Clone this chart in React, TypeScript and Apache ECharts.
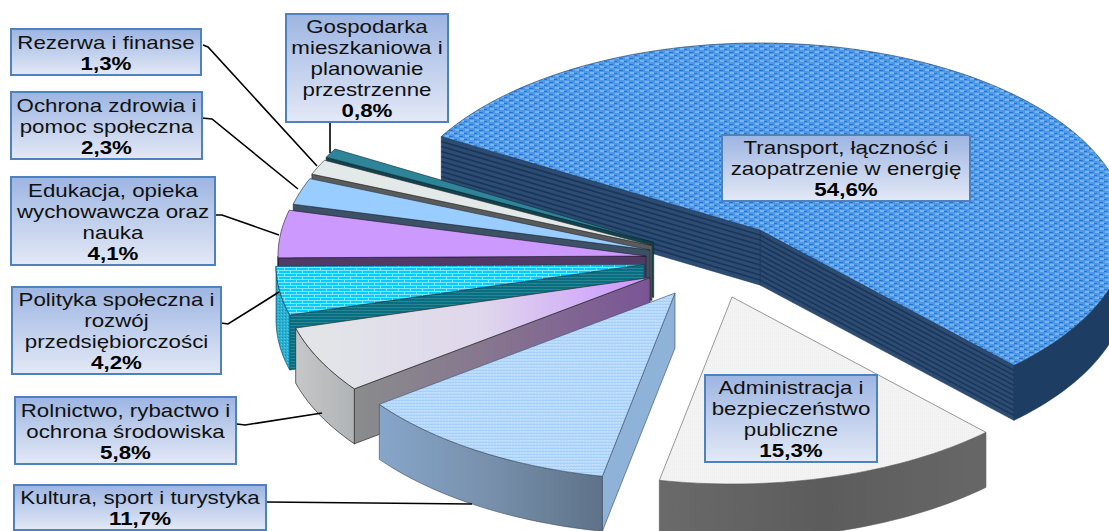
import React, { useEffect, useRef } from "react";
import * as echarts from "echarts";

const sliceNames = [
  "Transport, łączność i\nzaopatrzenie w energię",
  "Administracja i\nbezpieczeństwo\npubliczne",
  "Kultura, sport i turystyka",
  "Rolnictwo, rybactwo i\nochrona środowiska",
  "Polityka społeczna i\nrozwój\nprzedsiębiorczości",
  "Edukacja, opieka\nwychowawcza oraz\nnauka",
  "Ochrona zdrowia i\npomoc społeczna",
  "Rezerwa i finanse",
  "Gospodarka\nmieszkaniowa i\nplanowanie\nprzestrzenne",
];
const sliceValues = [54.6, 15.3, 11.7, 5.8, 4.2, 4.1, 2.3, 1.3, 0.8];

// Layout of the exploded pie
const START_DEG = -150;
const RX = 368;
const RY = 187;
const DEPTH = 55;
const sliceApex = [
  [760, 230], [732, 297], [675, 293], [650, 277.5], [644, 264.5],
  [646, 256], [650, 250], [652, 245.5], [653.7, 242.5],
];
// painter's order: back to front
const drawOrder = [0, 8, 7, 6, 5, 4, 3, 2, 1];

// label boxes: x, y, w, h
const labelBoxes = [
  [722, 135, 248, 66], [705, 375, 172, 87], [14, 485, 252, 45], [15, 397, 221, 67],
  [12, 287, 209, 87], [11, 177, 204, 88], [11, 92, 191, 67], [11, 29, 190, 46], [286, 14, 162, 108],
];
const leaderLines = [
  null, null,
  [[267, 502], [472, 504]],
  [[237, 424], [245, 425], [322, 413]],
  [[221, 323], [228, 324], [279, 292]],
  [[216, 215], [222, 215], [279, 235]],
  [[202, 118], [212, 119], [298, 189]],
  [[203, 45], [208, 47], [317, 166]],
  [[330, 123], [330, 153]],
];

function tile(w: number, h: number, base: string, marks: [string, number, number, number, number][]) {
  const c = document.createElement("canvas");
  c.width = w;
  c.height = h;
  const g = c.getContext("2d")!;
  g.fillStyle = base;
  g.fillRect(0, 0, w, h);
  for (const [col, x, y, mw, mh] of marks) {
    g.fillStyle = col;
    g.fillRect(x, y, mw, mh);
  }
  return { image: c, repeat: "repeat", imageWidth: w, imageHeight: h };
}

function hgrad(x1: number, x2: number, stops: string[]) {
  return {
    type: "linear", global: true, x: x1, y: 0, x2, y2: 0,
    colorStops: stops.map((color, i) => ({ offset: i / (stops.length - 1), color })),
  };
}

function buildStyles() {
  const L = "#78B4F2", D = "#2274D2";
  const weave = tile(10, 6, "#4E98E8", [
    [L, 0, 0, 4, 2], [D, 4, 1, 3, 1], [L, 5, 3, 4, 2], [D, 0, 4, 3, 1], [D, 9, 4, 1, 1],
  ]);
  const dots = tile(2, 2, "#F3F3F3", [["#EEEEEE", 0, 0, 1, 1]]);
  const kTop = tile(3, 3, "#B7DAFD", [["#A8CFF8", 0, 1, 3, 1], ["#CAE4FE", 1, 2, 1, 1]]);
  const brick = tile(12, 6, "#05CBFF", [
    ["#7FE6FF", 0, 0, 12, 1], ["#7FE6FF", 2, 0, 1, 3], ["#7FE6FF", 0, 3, 12, 1], ["#7FE6FF", 8, 3, 1, 3],
  ]);
  const tealSide = tile(3, 3, "#086F82", [["#2C8493", 0, 1, 3, 1]]);
  const tealArc = tile(3, 3, "#28B0D2", [["#1592B4", 0, 1, 1, 1], ["#58C8E2", 2, 2, 1, 1]]);
  return [
    { top: weave, start: "#2C4C74", end: "#2C4C74", arc: "#1E3D62", stripe: "#1B3556", stroke: "#1B3556", lw: 0.6 },
    { top: dots, start: "#666", end: "#666", arc: hgrad(660, 985, ["#6A6A6A", "#5C5C5C", "#676767"]), stroke: "#555", lw: 0.6 },
    {
      top: kTop, start: "#8FB2D8", end: "#8FB2D8",
      arc: hgrad(377, 601, ["#86A6CA", "#7890AC", "#5E7389"]), stroke: "#3A4A5C", lw: 0.6,
    },
    {
      top: hgrad(330, 640, ["#E2E4E8", "#DFD6EC", "#CC99FF"]),
      start: hgrad(356, 650, ["#8A8C8D", "#86738F", "#7A5596"]),
      end: "#8A8C8D", arc: hgrad(297, 356, ["#C4C6C8", "#B0B3B5"]), stroke: "#2A2A2A", lw: 0.7,
    },
    { top: brick, start: tealSide, end: tealSide, arc: tealArc, stroke: "#0B3E4A", lw: 0.6 },
    { top: "#CC99FF", start: "#523A66", end: "#523A66", arc: "#523A66", stroke: "#1E1528", lw: 0.6 },
    { top: "#99CCFF", start: "#3D5166", end: "#3D5166", arc: "#3D5166", stroke: "#1E2A36", lw: 0.6 },
    { top: "#E3E8E8", start: "#5A5C5C", end: "#5A5C5C", arc: "#5A5C5C", stroke: "#2A2C2C", lw: 0.6 },
    { top: "#2E8599", start: "#12424D", end: "#12424D", arc: "#12424D", stroke: "#0A2A30", lw: 0.6 },
  ];
}

const rad = (d: number) => (d * Math.PI) / 180;

function sliceAngles(i: number) {
  const total = sliceValues.reduce((a, b) => a + b, 0);
  let acc = 0;
  for (let k = 0; k < i; k++) acc += sliceValues[k];
  const a0 = START_DEG + (acc / total) * 360;
  return [a0, a0 + (sliceValues[i] / total) * 360];
}

function rimPoint(i: number, deg: number, dy = 0) {
  const [ax, ay] = sliceApex[i];
  return [ax + RX * Math.cos(rad(deg)), ay + RY * Math.sin(rad(deg)) + dy];
}

function arcPoints(i: number, from: number, to: number, dy = 0) {
  const pts: number[][] = [];
  const n = Math.max(2, Math.ceil((to - from) / 1.5));
  for (let k = 0; k <= n; k++) pts.push(rimPoint(i, from + ((to - from) * k) / n, dy));
  return pts;
}

function renderSlice(styles: any[]) {
  return (params: any) => {
    const i = drawOrder[params.dataIndex];
    const st = styles[i];
    const [a0, a1] = sliceAngles(i);
    const [ax, ay] = sliceApex[i];
    const children: any[] = [];
    const face = (points: number[][], fill: any) =>
      children.push({ type: "polygon", shape: { points }, style: { fill, stroke: st.stroke, lineWidth: st.lw } });
    const stripes = (pts: (dy: number) => number[][]) => {
      if (!st.stripe) return;
      for (let d = 5; d < DEPTH; d += 5) {
        children.push({ type: "polyline", shape: { points: pts(d) }, style: { fill: "none", stroke: st.stripe, lineWidth: 1.6 } });
      }
    };
    // radial wall on the closing edge
    if (Math.sin(rad(a1 + 90)) > 0) {
      face([[ax, ay], rimPoint(i, a1), rimPoint(i, a1, DEPTH), [ax, ay + DEPTH]], st.end);
      stripes((d) => [[ax, ay + d], rimPoint(i, a1, d)]);
    }
    // radial wall on the opening edge
    if (Math.sin(rad(a0 - 90)) > 0) {
      face([[ax, ay], rimPoint(i, a0), rimPoint(i, a0, DEPTH), [ax, ay + DEPTH]], st.start);
      stripes((d) => [[ax, ay + d], rimPoint(i, a0, d)]);
    }
    // outer wall, only the part that faces the viewer
    const from = Math.max(a0, 0);
    const to = Math.min(a1, 180);
    if (to > from) {
      face([...arcPoints(i, from, to), ...arcPoints(i, from, to, DEPTH).reverse()], st.arc);
    }
    // top face
    face([[ax, ay], ...arcPoints(i, a0, a1)], st.top);
    return { type: "group", children };
  };
}

function renderLabel(params: any) {
  const i = params.dataIndex;
  const [x, y, w, h] = labelBoxes[i];
  const children: any[] = [];
  const line = leaderLines[i];
  if (line) {
    children.push({ type: "polyline", shape: { points: line }, style: { fill: "none", stroke: "#000", lineWidth: 1.6 } });
  }
  children.push({
    type: "rect",
    shape: { x, y, width: w, height: h },
    style: {
      fill: {
        type: "linear", x: 0, y: 0, x2: 0, y2: 1,
        colorStops: [{ offset: 0, color: "#9DB5E2" }, { offset: 1, color: "#E3E9F6" }],
      },
      stroke: "#4F81BD",
      lineWidth: 2,
    },
  });
  const nameLines = sliceNames[i].split("\n").map((s) => `{n|${s}}`);
  const pct = `{v|${sliceValues[i].toFixed(1).replace(".", ",")}%}`;
  children.push({
    type: "text",
    x: x + w / 2,
    y: y + h / 2 + 1,
    scaleX: 1.24,
    style: {
      text: [...nameLines, pct].join("\n"),
      align: "center",
      verticalAlign: "middle",
      fill: "#000",
      rich: {
        n: { fontFamily: "Liberation Sans", fontSize: 18, lineHeight: 21, fill: "#111", align: "center" },
        v: { fontFamily: "Liberation Sans", fontSize: 18, fontWeight: "bold", lineHeight: 21, fill: "#000", align: "center" },
      },
    },
  });
  return { type: "group", children };
}

export default function App() {
  const ref = useRef<HTMLDivElement>(null);
  useEffect(() => {
    document.body.style.margin = "0";
    const chart = echarts.init(ref.current!, undefined, { renderer: "svg" });
    const styles = buildStyles();
    chart.setOption({
      animation: false,
      backgroundColor: "#fff",
      series: [
        {
          type: "custom",
          coordinateSystem: "none",
          silent: true,
          z: 2,
          data: drawOrder.map((i) => sliceValues[i]),
          renderItem: renderSlice(styles),
        },
        {
          type: "custom",
          coordinateSystem: "none",
          silent: true,
          z: 5,
          data: sliceValues.slice(),
          renderItem: renderLabel,
        },
      ],
    });
    return () => chart.dispose();
  }, []);
  return <div ref={ref} style={{ width: 1109, height: 531, overflow: "hidden" }} />;
}
